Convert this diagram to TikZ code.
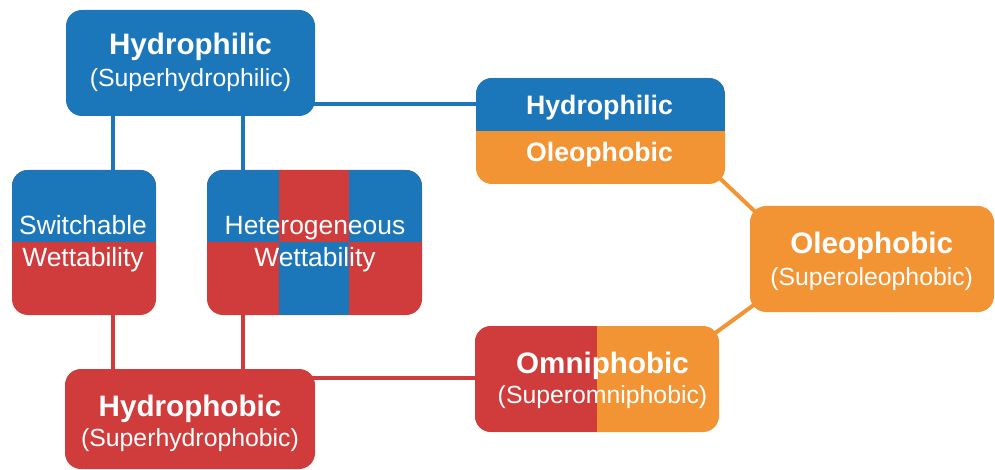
\documentclass[tikz,border=0pt]{standalone}
\usepackage{fontspec}
\setmainfont{Liberation Sans}
\usetikzlibrary{calc,backgrounds}
\definecolor{cblue}{RGB}{28,119,186}
\definecolor{cred}{RGB}{208,60,60}
\definecolor{corange}{RGB}{243,148,52}
\begin{document}
\begin{tikzpicture}[x=0.75pt,y=-0.75pt,
  box/.style 2 args={rectangle, rounded corners=12pt, inner sep=0pt, draw=none,
    minimum width=#1*0.75pt, minimum height=#2*0.75pt},
  splitTB/.style 2 args={fill=#2, path picture={
    \fill[#1, sharp corners] (path picture bounding box.north west) rectangle (path picture bounding box.east);}},
  splitLR/.style 2 args={fill=#2, path picture={
    \fill[#1, sharp corners] (path picture bounding box.north west) rectangle (path picture bounding box.south);}},
  hetero/.style={fill=cred, path picture={
    \begin{scope}[sharp corners]
    \fill[cblue] (path picture bounding box.north west) rectangle
      ($(path picture bounding box.west)!0.335!(path picture bounding box.east)$);
    \fill[cblue] ($(path picture bounding box.north west)!0.66!(path picture bounding box.north east)$)
      rectangle (path picture bounding box.east);
    \fill[cblue] ($(path picture bounding box.south west)!0.335!(path picture bounding box.south east)$)
      rectangle ($(path picture bounding box.west)!0.66!(path picture bounding box.east)$);
    \end{scope}}},
  conn/.style={line width=3pt},
  ttl/.style={text=white, font=\fontsize{22.2}{26}\selectfont\bfseries, anchor=base, inner sep=0pt},
  sub/.style={text=white, font=\fontsize{18.6}{22}\selectfont, anchor=base, inner sep=0pt},
  mid/.style={text=white, font=\fontsize{19.8}{24}\selectfont, anchor=base, inner sep=0pt},
  hp/.style={text=white, font=\fontsize{20}{24}\selectfont\bfseries, anchor=base, inner sep=0pt}
]
\useasboundingbox (0,0) rectangle (995,470);

% boxes
\node (hphil)  [box={249}{106}, fill=cblue] at (190.5,63) {};
\node (switch) [box={144}{145}, splitTB={cblue}{cred}] at (84,242.5) {};
\node (het)    [box={215}{145}, hetero] at (314.5,242.5) {};
\node (hpol)   [box={249}{106}, splitTB={cblue}{corange}] at (600.5,131) {};
\node (oleo)   [box={244}{106}, fill=corange] at (872,259) {};
\node (omni)   [box={244}{106}, splitLR={cred}{corange}] at (597,379) {};
\node (hphob)  [box={250}{100}, fill=cred] at (190,419) {};

% connectors
\coordinate (xa) at (113,0);
\coordinate (xb) at (243,0);
\coordinate (ya) at (0,104);
\coordinate (yb) at (0,378);
\begin{scope}[on background layer]
  \draw[conn, cblue] (hphil -| xa) -- (switch -| xa);
  \draw[conn, cblue] (hphil -| xb) -- (het -| xb);
  \draw[conn, cred] (switch -| xa) -- (hphob -| xa);
  \draw[conn, cred] (het -| xb) -- (hphob -| xb);
  \draw[conn, cblue] (ya -| hphil) -- (ya -| hpol);
  \draw[conn, cred] (yb -| hphob) -- (yb -| omni);
  \draw[conn, corange] ($(hpol.south east)+(-16,-16)$) -- ($(oleo.north west)+(16,16)$);
  \draw[conn, corange] ($(omni.north east)+(-16,16)$) -- ($(oleo.south west)+(16,-16)$);
\end{scope}

% texts
\node (t1a) [ttl] at (190.5,55) {Hydrophilic};
\node (t1b) [sub] at (190.5,87) {(Superhydrophilic)};
\node (t2a) [mid] at (83,234) {Switchable};
\node (t2b) [mid] at (83,266.5) {Wettability};
\node (t3a) [mid] at (315,234) {Heterogeneous};
\node (t3b) [mid] at (315,266.5) {Wettability};
\node (t4a) [hp] at (599.5,115) {Hydrophilic};
\node (t4b) [hp] at (599.5,161.5) {Oleophobic};
\node (t5a) [ttl] at (871.7,253) {Oleophobic};
\node (t5b) [sub] at (871.7,285) {(Superoleophobic)};
\node (t6a) [ttl] at (602.5,373) {Omniphobic};
\node (t6b) [sub] at (602.5,403) {(Superomniphobic)};
\node (t7a) [ttl] at (190,416) {Hydrophobic};
\node (t7b) [sub] at (190,446.5) {(Superhydrophobic)};
\end{tikzpicture}
\end{document}
